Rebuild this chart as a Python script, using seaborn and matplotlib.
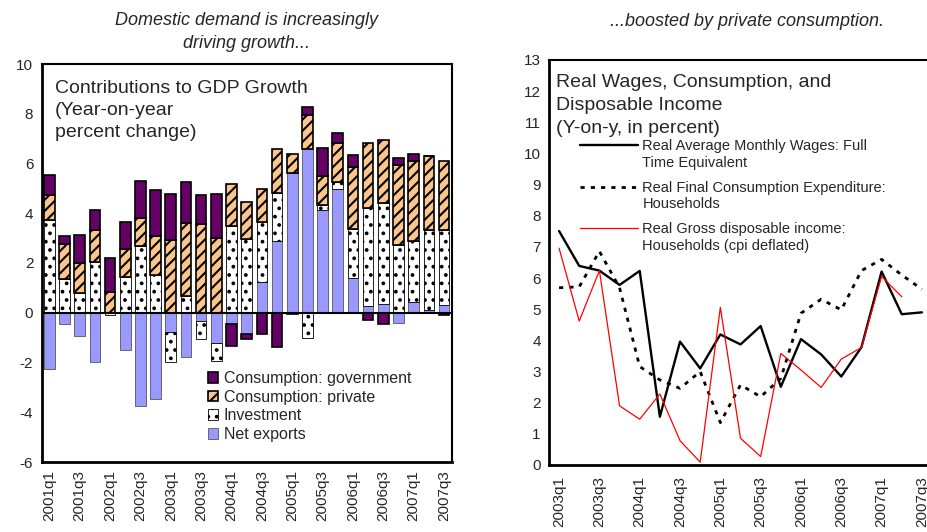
import numpy as np
import pandas as pd
import seaborn as sns
import matplotlib.pyplot as plt
from matplotlib.lines import Line2D
from matplotlib.legend_handler import HandlerLine2D

# Left panel: contributions to GDP growth (percentage points)
quarters_left = [f"{y}q{q}" for y in range(2001, 2008) for q in range(1, 5)][:27]
net_exports = [-2.25, -0.47, -0.94, -1.97, 0.0, -1.50, -3.75, -3.48, -0.78, -1.77,
               -0.34, -1.23, -0.47, -0.87, 1.23, 2.87, 5.62, 6.58, 4.14, 4.97,
               1.39, 0.27, 0.37, -0.40, 0.44, 0.12, 0.33]
investment = [3.74, 1.34, 0.80, 2.03, -0.08, 1.44, 2.70, 1.51, -1.20, 0.69,
              -0.73, -0.71, 3.50, 2.98, 2.42, 1.94, 0.0, -1.00, 0.18, 0.27,
              1.99, 3.93, 4.04, 2.71, 2.43, 3.22, 2.98]
cons_private = [1.01, 1.44, 1.18, 1.31, 0.85, 1.13, 1.11, 1.59, 2.91, 2.92,
                3.58, 3.01, 1.69, 1.46, 1.32, 1.78, 0.76, 1.35, 1.16, 1.59,
                2.46, 2.64, 2.54, 3.24, 3.24, 2.98, 2.81]
cons_gov = [0.80, 0.29, 1.16, 0.80, 1.34, 1.06, 1.50, 1.82, 1.88, 1.64,
            1.17, 1.78, -0.87, -0.17, -0.87, -1.36, -0.05, 0.33, 1.16, 0.40,
            0.51, -0.31, -0.44, 0.29, 0.28, 0.0, -0.10]

# Right panel: y-on-y, percent
quarters_right = quarters_left[8:]
wages = [7.51, 6.39, 6.24, 5.78, 6.23, 1.55, 3.96, 3.10, 4.19, 3.87,
         4.46, 2.51, 4.04, 3.55, 2.84, 3.78, 6.21, 4.84, 4.90]
consumption = [5.69, 5.72, 6.86, 5.69, 3.16, 2.73, 2.46, 3.00, 1.36, 2.57,
               2.19, 2.78, 4.87, 5.32, 4.98, 6.24, 6.60, 6.10, 5.64]
income = [6.96, 4.62, 6.24, 1.90, 1.47, 2.28, 0.78, 0.09, 5.06, 0.86,
          0.27, 3.58, 3.05, 2.49, 3.40, 3.77, 6.05, 5.40, np.nan]

sns.set_style("white")
plt.rcParams['font.family'] = ['Liberation Sans', 'DejaVu Sans']
plt.rcParams['hatch.linewidth'] = 1.5
plt.rcParams['axes.unicode_minus'] = False

fig = plt.figure(figsize=(9.27, 5.32), dpi=100)
W, H = 927, 532


def px_axes(x0, y0, x1, y1):
    return fig.add_axes([x0 / W, 1 - y1 / H, (x1 - x0) / W, (y1 - y0) / H])


class FirstLineHandler(HandlerLine2D):
    """Legend line drawn level with the first line of a two-line label."""
    def create_artists(self, legend, orig_handle, xdescent, ydescent, width,
                       height, fontsize, trans):
        artists = super().create_artists(legend, orig_handle, xdescent, ydescent,
                                         width, height, fontsize, trans)
        for a in artists:
            a.set_ydata(np.asarray(a.get_ydata()) + 0.68 * fontsize)
        return artists


# ---------------- left panel ----------------
ax1 = px_axes(41.7, 64, 451.7, 462)
x = np.arange(len(quarters_left))
series = [
    ("Net exports", net_exports, dict(color="#9999FF", edgecolor="#555555", linewidth=0.6)),
    ("Investment", investment, dict(color="white", edgecolor="black", linewidth=0.6, hatch="..")),
    ("Consumption: private", cons_private, dict(color="#FBC58C", edgecolor="black", linewidth=1.2, hatch="///")),
    ("Consumption: government", cons_gov, dict(color="#660066", edgecolor="black", linewidth=1.2)),
]
pos_base = np.zeros(len(x))
neg_base = np.zeros(len(x))
handles = []
for name, vals, style in series:
    v = np.array(vals)
    bottom = np.where(v >= 0, pos_base, neg_base)
    bars = ax1.bar(x, v, bottom=bottom, width=0.7, label=name, zorder=2, **style)
    handles.append(bars)
    pos_base = pos_base + np.clip(v, 0, None)
    neg_base = neg_base + np.clip(v, None, 0)

ax1.axhline(0, color="black", lw=1.5, zorder=3)
ax1.set_xlim(-0.5, len(x) - 0.5)
ax1.set_ylim(-6, 10)
ax1.set_yticks(range(-6, 11, 2))
ax1.set_xticks(x[::2])
ax1.set_xticklabels(quarters_left[::2], rotation=90, fontsize=11)
ax1.tick_params(axis="x", length=0, pad=6)
ax1.tick_params(axis="y", direction="inout", length=6, width=1.2, labelsize=11, pad=3)
for side, sp in ax1.spines.items():
    sp.set_color("black")
    sp.set_linewidth(2.0 if side in ("left", "bottom") else 1.5)

ax1.text(0.032, 0.96, "Contributions to GDP Growth\n(Year-on-year\npercent change)",
         transform=ax1.transAxes, ha="left", va="top", fontsize=14, linespacing=1.4)
ax1.legend(handles[::-1], [s[0] for s in series][::-1], loc="upper left",
           bbox_to_anchor=(0.405, 0.228), frameon=False, fontsize=11.5,
           handlelength=0.65, handleheight=0.65, handletextpad=0.35,
           labelspacing=0.22, borderpad=0, borderaxespad=0)

# ---------------- right panel ----------------
ax2 = px_axes(549, 60, 932, 465)
xr = np.arange(len(quarters_right))
df = pd.DataFrame({"idx": xr, "wages": wages, "consumption": consumption, "income": income})
sns.lineplot(data=df, x="idx", y="wages", ax=ax2, color="black", lw=1.7)
sns.lineplot(data=df, x="idx", y="consumption", ax=ax2, color="black", lw=2.0,
             dashes=False, linestyle=(0, (1.5, 2.2)))
sns.lineplot(data=df, x="idx", y="income", ax=ax2, color="red", lw=0.9)

ax2.set_xlim(-0.5, len(xr) - 0.5)
ax2.set_ylim(0, 13)
ax2.set_yticks(range(0, 14))
ax2.set_xlabel("")
ax2.set_ylabel("")
ax2.set_xticks(xr[::2])
ax2.set_xticklabels(quarters_right[::2], rotation=90, fontsize=11)
ax2.set_xticks(xr[::2] - 0.5, minor=True)
ax2.tick_params(axis="x", which="major", length=0, pad=8)
ax2.tick_params(axis="x", which="minor", direction="in", length=6, width=1.2)
ax2.tick_params(axis="y", direction="inout", length=6, width=1.2, labelsize=11, pad=3)
for side, sp in ax2.spines.items():
    sp.set_color("black")
    sp.set_linewidth(2.0 if side in ("left", "bottom") else 1.5)

ax2.text(0.018, 0.965, "Real Wages, Consumption, and\nDisposable Income\n(Y-on-y, in percent)",
         transform=ax2.transAxes, ha="left", va="top", fontsize=14, linespacing=1.45)
leg_handles = [
    Line2D([], [], color="black", lw=1.7),
    Line2D([], [], color="black", lw=2.0, linestyle=(0, (1.5, 2.2))),
    Line2D([], [], color="red", lw=0.9),
]
leg_labels = ["Real Average Monthly Wages: Full\nTime Equivalent",
              "Real Final Consumption Expenditure:\nHouseholds",
              "Real Gross disposable income:\nHouseholds (cpi deflated)"]
leg2 = ax2.legend(leg_handles, leg_labels, loc="upper left", bbox_to_anchor=(0.08, 0.805),
                  frameon=False, fontsize=10.5, handlelength=4.0, handletextpad=0.3,
                  labelspacing=0.75, borderpad=0, borderaxespad=0,
                  handler_map={Line2D: FirstLineHandler()})
for t in leg2.get_texts():
    t.set_linespacing(1.25)

# ---------------- titles ----------------
fig.text(246.7 / W, 1 - 12 / H, "Domestic demand is increasingly\ndriving growth...",
         ha="center", va="top", fontsize=13, style="italic", linespacing=1.45)
fig.text(747 / W, 1 - 13 / H, "...boosted by private consumption.",
         ha="center", va="top", fontsize=13, style="italic")

fig.savefig("out.png", dpi=100)
